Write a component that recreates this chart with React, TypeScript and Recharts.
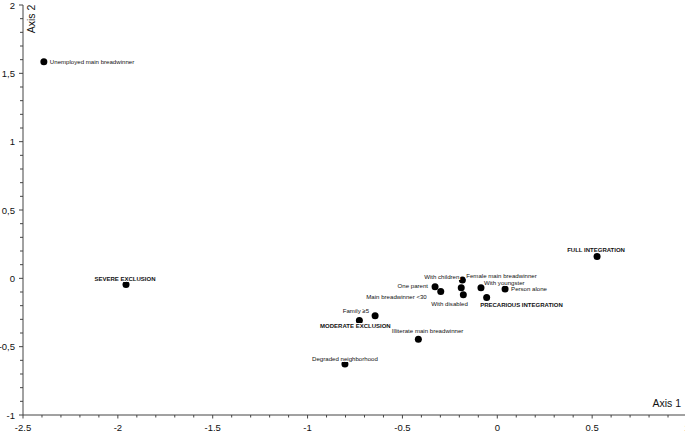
import React from 'react';
import { ScatterChart, Scatter, XAxis, YAxis } from 'recharts';

// ---- data ----
const names: string[] = [
  'Unemployed main breadwinner',
  'SEVERE EXCLUSION',
  'FULL INTEGRATION',
  'With children',
  'Female main breadwinner',
  'With youngster',
  'Person alone',
  'One parent',
  'Main breadwinner <30',
  'With disabled',
  'PRECARIOUS INTEGRATION',
  'Family \u22655',
  'MODERATE EXCLUSION',
  'Illiterate main breadwinner',
  'Degraded neighborhood',
];
const axis1: number[] = [-2.39, -1.957, 0.526, -0.184, -0.19, -0.086, 0.041, -0.328, -0.298, -0.179, -0.056, -0.644, -0.727, -0.416, -0.803];
const axis2: number[] = [1.585, -0.045, 0.16, -0.012, -0.068, -0.068, -0.078, -0.061, -0.097, -0.121, -0.141, -0.273, -0.309, -0.446, -0.626];
const groupLabels: string[] = ['SEVERE EXCLUSION', 'FULL INTEGRATION', 'PRECARIOUS INTEGRATION', 'MODERATE EXCLUSION'];

const xMajorTicks: number[] = [-2.5, -2, -1.5, -1, -0.5, 0, 0.5, 1];
const yMajorTicks: number[] = [-1, -0.5, 0, 0.5, 1, 1.5, 2];

// ---- label placement (style, offsets from each point) ----
const labelPlacement: Record<string, [number, number, 'start' | 'middle' | 'end']> = {
  'Unemployed main breadwinner': [6, 0, 'start'],
  'SEVERE EXCLUSION': [-1, -5, 'middle'],
  'FULL INTEGRATION': [-1, -6, 'middle'],
  'With children': [-3, -3, 'end'],
  'Female main breadwinner': [5, -12.5, 'start'],
  'With youngster': [3, -5.5, 'start'],
  'Person alone': [6, 0, 'start'],
  'One parent': [-7, -1.5, 'end'],
  'Main breadwinner <30': [-14, 5, 'end'],
  'With disabled': [4.5, 9, 'end'],
  'PRECARIOUS INTEGRATION': [-6.5, 7.5, 'start'],
  'Family \u22655': [-6, -5.5, 'end'],
  'MODERATE EXCLUSION': [-4, 5, 'middle'],
  'Illiterate main breadwinner': [-26.5, -8.5, 'start'],
  'Degraded neighborhood': [0, -5.5, 'middle'],
};

const data = names.map((n, i) => ({ name: n, x: axis1[i], y: axis2[i] }));

function buildTicks(min: number, max: number): number[] {
  const out: number[] = [];
  const n = Math.round((max - min) * 10);
  for (let i = 0; i <= n; i++) out.push(Math.round((min + i / 10) * 10) / 10);
  return out;
}
const xTicks = buildTicks(-2.5, 1);
const yTicks = buildTicks(-1, 2);

const isMajor = (v: number, majors: number[]) => majors.some((m) => Math.abs(m - v) < 1e-6);
const fmt = (v: number) => String(v).replace('.', ',');

const FONT = "'Liberation Sans', Arial, sans-serif";
const AXIS_COLOR = '#444';

const XTick = (props: any) => {
  const { x, y, payload } = props;
  const v = payload.value;
  const major = isMajor(v, xMajorTicks);
  return (
    <g>
      <line x1={x} x2={x} y1={y} y2={y + (major ? 3.5 : 2.5)} stroke={AXIS_COLOR} strokeWidth={1} />
      {major && (
        <text x={x} y={y + 12} textAnchor="middle" dominantBaseline="central" fontSize={9.5} fontFamily={FONT} fill="#111">
          {fmt(v)}
        </text>
      )}
    </g>
  );
};

const YTick = (props: any) => {
  const { x, y, payload } = props;
  const v = payload.value;
  const major = isMajor(v, yMajorTicks);
  return (
    <g>
      <line x1={x} x2={x - (major ? 4 : 3)} y1={y} y2={y} stroke={AXIS_COLOR} strokeWidth={1} />
      {major && (
        <text x={x - 8} y={y} textAnchor="end" dominantBaseline="central" fontSize={9.5} fontFamily={FONT} fill="#111">
          {fmt(v)}
        </text>
      )}
    </g>
  );
};

const XTitle = (props: any) => {
  const vb = props.viewBox || { x: 23, y: 415, width: 664, height: 16 };
  return (
    <text x={vb.x + vb.width - 6} y={vb.y - 12} textAnchor="end" dominantBaseline="central" fontSize={10.5} fontFamily={FONT} fill="#111">
      Axis 1
    </text>
  );
};

const YTitle = (props: any) => {
  const vb = props.viewBox || { x: 0, y: 5, width: 23, height: 410 };
  const tx = vb.x + vb.width + 8;
  const ty = vb.y + 14;
  return (
    <text x={tx} y={ty} transform={`rotate(-90, ${tx}, ${ty})`} textAnchor="middle" dominantBaseline="central" fontSize={10.5} fontFamily={FONT} fill="#111">
      Axis 2
    </text>
  );
};

const Dot = (props: any) => {
  const { cx, cy } = props;
  return <circle cx={cx} cy={cy} r={3.5} fill="#000" />;
};

const PointLabel = (props: any) => {
  const { cx, cy, payload } = props;
  const name: string = payload.name;
  const [dx, dy, anchor] = labelPlacement[name] || [5, 0, 'start'];
  const bold = groupLabels.includes(name);
  return (
    <text
      x={cx + dx}
      y={cy + dy}
      textAnchor={anchor}
      dominantBaseline="central"
      fontSize={bold ? 6 : 6.1}
      fontWeight={bold ? 'bold' : 'normal'}
      fontFamily={FONT}
      fill="#111"
      stroke="#fff"
      strokeWidth={2}
      paintOrder="stroke"
    >
      {name}
    </text>
  );
};

export default function App() {
  return (
    <div style={{ position: 'absolute', left: 0, top: 0, width: 685, height: 431, background: '#fff' }}>
      <ScatterChart width={685} height={431} margin={{ top: 5, right: -2, bottom: 0, left: 0 }}>
        <XAxis
          type="number"
          dataKey="x"
          domain={[-2.5, 1]}
          ticks={xTicks}
          interval={0}
          allowDataOverflow
          height={16}
          tickSize={0}
          tickMargin={0}
          tickLine={false}
          axisLine={{ stroke: AXIS_COLOR, strokeWidth: 1 }}
          tick={<XTick />}
          label={<XTitle />}
        />
        <YAxis
          type="number"
          dataKey="y"
          domain={[-1, 2]}
          ticks={yTicks}
          interval={0}
          allowDataOverflow
          width={23}
          tickSize={0}
          tickMargin={0}
          tickLine={false}
          axisLine={{ stroke: AXIS_COLOR, strokeWidth: 1 }}
          tick={<YTick />}
          label={<YTitle />}
        />
        <Scatter data={data} shape={<Dot />} isAnimationActive={false} />
        <Scatter data={data} shape={<PointLabel />} isAnimationActive={false} />
      </ScatterChart>
    </div>
  );
}
